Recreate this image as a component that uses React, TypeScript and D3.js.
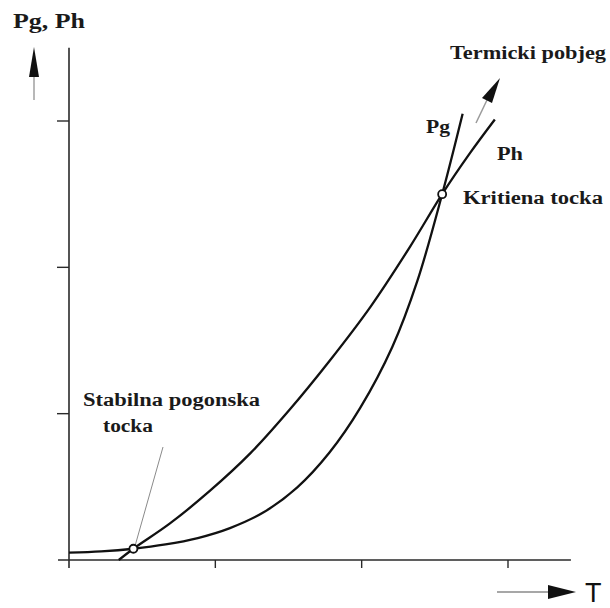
import React from "react";
import * as d3 from "d3";

// Heat generated (Pg) and heat removed (Ph) against temperature T
const pgT = [0, 0.22, 0.44, 0.66, 0.88, 1.1, 1.33, 1.56, 1.78, 1.99, 2.21, 2.38, 2.55, 2.69];
const pgP = [0.05, 0.059, 0.077, 0.106, 0.15, 0.218, 0.326, 0.496, 0.734, 1.039, 1.457, 1.905, 2.5, 3.05];
const phT = [0.34, 0.44, 0.69, 0.96, 1.24, 1.51, 1.78, 2.06, 2.33, 2.55, 2.74, 2.91];
const phP = [0, 0.077, 0.25, 0.47, 0.73, 1.03, 1.36, 1.73, 2.14, 2.5, 2.78, 3.01];

const xTicks = [1, 2, 3];
const yTicks = [1, 2, 3];
const stablePoint = [0.44, 0.077];
const criticalPoint = [2.55, 2.5];

const W = 610;
const H = 608;

export default function App() {
  const x = d3.scaleLinear().domain([0, 3]).range([69, 508]);
  const y = d3.scaleLinear().domain([0, 3]).range([560, 121]);

  const line = d3
    .line<number[]>()
    .x(d => x(d[0]))
    .y(d => y(d[1]))
    .curve(d3.curveCatmullRom.alpha(0.5));

  const pg = pgT.map((t, i) => [t, pgP[i]]);
  const ph = phT.map((t, i) => [t, phP[i]]);

  const serif = { fontFamily: "'Liberation Serif', 'Times New Roman', serif", fontWeight: 700, fill: "#1a1a1a" };
  const axisColor = "#2a2a2a";

  return (
    <svg width={W} height={H} style={{ position: "absolute", left: 0, top: 0, background: "#fff" }}>
      {/* axes */}
      <line x1={x(0)} x2={x(0)} y1={y(3.5)} y2={y(0) + 8} stroke={axisColor} strokeWidth={1.6} />
      <line x1={x(-0.075)} x2={x(3.43)} y1={y(0)} y2={y(0)} stroke={axisColor} strokeWidth={1.6} />
      {xTicks.map(t => (
        <line key={"xt" + t} x1={x(t)} x2={x(t)} y1={y(0)} y2={y(0) + 8} stroke={axisColor} strokeWidth={1.4} />
      ))}
      {yTicks.map(t => (
        <line key={"yt" + t} x1={x(0) - 12} x2={x(0)} y1={y(t)} y2={y(t)} stroke={axisColor} strokeWidth={1.4} />
      ))}

      {/* curves */}
      <path d={line(ph) || ""} fill="none" stroke="#111" strokeWidth={2.3} />
      <path d={line(pg) || ""} fill="none" stroke="#111" strokeWidth={2.3} />

      {/* leader for stable point */}
      <line x1={163} y1={447} x2={x(stablePoint[0]) + 2} y2={y(stablePoint[1]) - 4} stroke="#8a8a8a" strokeWidth={1} />

      {/* operating points */}
      {[stablePoint, criticalPoint].map((p, i) => (
        <circle key={i} cx={x(p[0])} cy={y(p[1])} r={4} fill="#fff" stroke="#111" strokeWidth={1.8} />
      ))}

      {/* runaway arrow */}
      <line x1={476} y1={123} x2={487} y2={100} stroke="#9a9a9a" strokeWidth={1.5} />
      <path d="M500,78 L482,98 L492,103 Z" fill="#111" />

      {/* y arrow */}
      <line x1={34} x2={34} y1={100} y2={72} stroke="#a0a0a0" strokeWidth={1.5} />
      <path d="M34,47 L29,77 L39,77 Z" fill="#111" />

      {/* x arrow */}
      <line x1={497} x2={555} y1={592} y2={592} stroke="#8a8a8a" strokeWidth={1.5} />
      <path d="M576,592 L548,585 L548,599 Z" fill="#111" />

      {/* labels */}
      <text x={13} y={28} fontSize={21} textLength={72} lengthAdjust="spacingAndGlyphs" style={serif}>Pg, Ph</text>
      <text x={450} y={59} fontSize={18} textLength={156} lengthAdjust="spacingAndGlyphs" style={serif}>Termicki pobjeg</text>
      <text x={426} y={133} fontSize={18} textLength={24} lengthAdjust="spacingAndGlyphs" style={serif}>Pg</text>
      <text x={497} y={160} fontSize={18} textLength={26} lengthAdjust="spacingAndGlyphs" style={serif}>Ph</text>
      <text x={463} y={204} fontSize={18} textLength={140} lengthAdjust="spacingAndGlyphs" style={serif}>Kritiena tocka</text>
      <text x={83} y={406} fontSize={18} textLength={177} lengthAdjust="spacingAndGlyphs" style={serif}>Stabilna pogonska</text>
      <text x={103} y={432} fontSize={18} textLength={50} lengthAdjust="spacingAndGlyphs" style={serif}>tocka</text>
      <text x={585} y={602} fontSize={27} style={{ fontFamily: "'Liberation Sans', Arial, sans-serif", fill: "#111" }}>T</text>
    </svg>
  );
}
